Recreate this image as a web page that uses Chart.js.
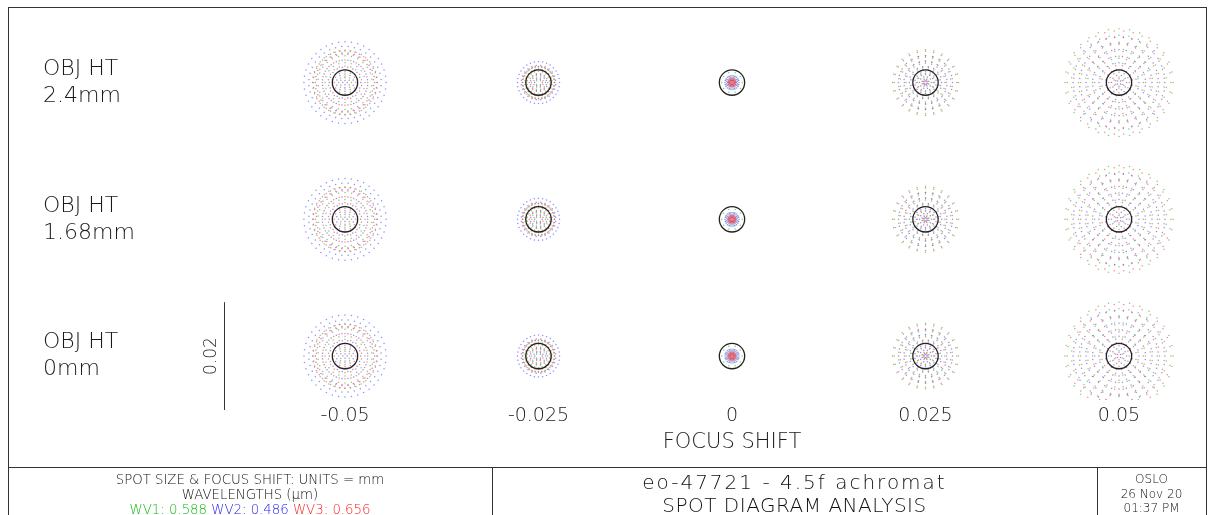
<!DOCTYPE html>
<html><head><meta charset="utf-8">
<script src="https://cdn.jsdelivr.net/npm/chart.js"></script>
<style>
html,body{margin:0;padding:0;background:#fff;}
#wrap{position:relative;width:1214px;height:515px;overflow:hidden;font-family:'DejaVu Sans',sans-serif;font-weight:200;color:#111;}
canvas{position:absolute;left:0;top:0;}
.ln{position:absolute;background:#333;}
.t{position:absolute;text-align:center;white-space:nowrap;}
</style></head>
<body><div id="wrap">
<canvas id="c" width="1214" height="467"></canvas>
<div class="ln" style="left:8px;top:7px;width:1199px;height:1px"></div>
<div class="ln" style="left:8px;top:7px;width:1px;height:508px"></div>
<div class="ln" style="left:1206px;top:7px;width:1px;height:508px"></div>
<div class="ln" style="left:8px;top:467px;width:1199px;height:1px"></div>
<div class="ln" style="left:492px;top:467px;width:1px;height:48px"></div>
<div class="ln" style="left:1097px;top:467px;width:1px;height:48px"></div>
<div class="t" style="left:8px;width:484px;top:472px;font-size:13.3px;line-height:15px">SPOT SIZE &amp; FOCUS SHIFT: UNITS = mm<br>WAVELENGTHS (μm)<br><span style="color:#11bb11">WV1: 0.588</span> <span style="color:#2222ff">WV2: 0.486</span> <span style="color:#ff2222">WV3: 0.656</span></div>
<div class="t" style="left:492px;width:605px;top:471px;font-size:20px;line-height:23px"><span style="letter-spacing:2px">eo-47721 - 4.5f achromat</span><br><span style="letter-spacing:0.5px">SPOT DIAGRAM ANALYSIS</span></div>
<div class="t" style="left:1097px;width:109px;top:472px;font-size:12px;line-height:14.5px">OSLO<br>26 Nov 20<br>01:37 PM</div>
</div>
<script>
// ---- data ----
const FOCUS_SHIFT_LABELS = ['-0.05', '-0.025', '0', '0.025', '0.05'];
const OBJ_HT_LABELS = ['2.4mm', '1.68mm', '0mm'];
const AIRY_RADIUS_MM = 0.00235;
const SCALE_BAR_MM = 0.02;

// spot rings per focus column: [radius (mm), number of ray dots]
const RINGS_WV1 = [ // green 0.588
  [[0.0060,36],[0.0050,26],[0.0037,20],[0.0024,14],[0.0012,8]],
  [[0.0029,28],[0.0021,18],[0.0013,10],[0.0005,4]],
  [[0.0019,10],[0.0012,8],[0.0005,6]],
  [[0.0061,24],[0.0050,22],[0.0039,20],[0.0028,16],[0.0017,12],[0.0007,8]],
  [[0.0100,32],[0.0088,30],[0.0075,28],[0.0062,24],[0.0049,20],[0.0036,16],[0.0023,12],[0.0010,6]]
];
const RINGS_WV2 = [ // blue 0.486
  [[0.0076,40],[0.0067,36],[0.0055,30],[0.0042,24],[0.0029,18],[0.0016,10],[0.0004,4]],
  [[0.0039,32],[0.0032,24],[0.0024,18],[0.0015,12],[0.0007,6]],
  [[0.0013,22],[0.0010,16],[0.0007,12],[0.0004,8]],
  [[0.0050,24],[0.0040,22],[0.0030,18],[0.0020,14],[0.0011,10],[0.0003,6]],
  [[0.0085,34],[0.0073,30],[0.0061,28],[0.0049,24],[0.0037,20],[0.0025,16],[0.0014,10],[0.0004,4]]
];
const RINGS_WV3 = [ // red 0.656
  [[0.0059,40],[0.0053,32],[0.0042,24],[0.0031,18],[0.0020,12],[0.0009,6]],
  [[0.0030,32],[0.0025,22],[0.0017,14],[0.0009,8]],
  [[0.0008,16],[0.0006,12],[0.0004,10],[0.0002,6],[0.0000,1]],
  [[0.0058,24],[0.0047,22],[0.0036,20],[0.0025,16],[0.0015,12],[0.0005,8]],
  [[0.0096,34],[0.0084,32],[0.0071,28],[0.0058,24],[0.0045,20],[0.0032,16],[0.0019,12],[0.0007,6]]
];

// ---- layout (spot-plane mm, shared by both axes) ----
const PX_PER_MM = 5400;
const COL_PITCH = 193.5 / PX_PER_MM;
const ROW_PITCH = 137 / PX_PER_MM;
const X_MIN = -(732 - 258) / PX_PER_MM, X_MAX = (1206 - 732) / PX_PER_MM;
const Y_MIN = -(400 - 219) / PX_PER_MM, Y_MAX = 219 / PX_PER_MM;
const SCALE_BAR_X = (224 - 732) / PX_PER_MM;
const colX = j => (j - 2) * COL_PITCH;
const rowY = i => (1 - i) * ROW_PITCH;
const FONT = 'DejaVu Sans';
const TEXT = '#1a1a1a';

function spotPoints(rings) {
  const pts = [];
  OBJ_HT_LABELS.forEach((_, row) => {
    FOCUS_SHIFT_LABELS.forEach((_, col) => {
      const cx = colX(col), cy = rowY(row);
      rings[col].forEach(([r, n], ri) => {
        for (let k = 0; k < n; k++) {
          const a = 2 * Math.PI * (k + (ri % 2) * 0.5) / n;
          pts.push({x: cx + r * Math.cos(a), y: cy + r * Math.sin(a)});
        }
      });
    });
  });
  return pts;
}

const spotDecor = {
  id: 'spotDecor',
  afterDatasetsDraw(chart) {
    const {ctx, scales: {x, y}} = chart;
    const rpx = Math.abs(y.getPixelForValue(AIRY_RADIUS_MM) - y.getPixelForValue(0));
    ctx.save();
    ctx.strokeStyle = '#222';
    ctx.lineWidth = 1.3;
    OBJ_HT_LABELS.forEach((_, r) => FOCUS_SHIFT_LABELS.forEach((_, c) => {
      ctx.beginPath();
      ctx.arc(x.getPixelForValue(colX(c)), y.getPixelForValue(rowY(r)), rpx, 0, 2 * Math.PI);
      ctx.stroke();
    }));
    const bx = Math.round(x.getPixelForValue(SCALE_BAR_X)) + 0.5;
    const yc = rowY(OBJ_HT_LABELS.length - 1);
    ctx.lineWidth = 1;
    ctx.strokeStyle = '#333';
    ctx.beginPath();
    ctx.moveTo(bx, y.getPixelForValue(yc + SCALE_BAR_MM / 2));
    ctx.lineTo(bx, y.getPixelForValue(yc - SCALE_BAR_MM / 2));
    ctx.stroke();
    ctx.translate(bx - 13, y.getPixelForValue(yc));
    ctx.rotate(-Math.PI / 2);
    ctx.textAlign = 'center';
    ctx.textBaseline = 'middle';
    ctx.fillStyle = TEXT;
    ctx.font = '200 17px "' + FONT + '"';
    ctx.fillText(SCALE_BAR_MM.toString(), 0, 0);
    ctx.restore();
  }
};

new Chart(document.getElementById('c'), {
  type: 'scatter',
  data: {
    datasets: [
      {label: 'WV3', data: spotPoints(RINGS_WV3), backgroundColor: 'rgba(255,30,30,0.55)'},
      {label: 'WV1', data: spotPoints(RINGS_WV1), backgroundColor: 'rgba(30,180,30,0.6)'},
      {label: 'WV2', data: spotPoints(RINGS_WV2), backgroundColor: 'rgba(30,30,255,0.5)'}
    ]
  },
  options: {
    responsive: false,
    animation: false,
    events: [],
    layout: {padding: {left: 43, right: 8, top: 0, bottom: 0}},
    elements: {point: {radius: 0.75, borderWidth: 0, hoverRadius: 0}},
    plugins: {legend: {display: false}, tooltip: {enabled: false}},
    scales: {
      x: {
        type: 'linear', min: X_MIN, max: X_MAX,
        grid: {display: false, drawTicks: false}, border: {display: false},
        afterBuildTicks: s => { s.ticks = FOCUS_SHIFT_LABELS.map((_, j) => ({value: colX(j)})); },
        ticks: {callback: (v, i) => FOCUS_SHIFT_LABELS[i], autoSkip: false, maxRotation: 0,
                font: {family: FONT, size: 19, weight: 200}, color: TEXT, padding: 5},
        title: {display: true, text: 'FOCUS SHIFT', color: TEXT,
                font: {family: FONT, size: 21, weight: 200}, padding: {top: 0, bottom: 12}},
        afterFit: s => { s.height = 67; s.paddingLeft = 0; s.paddingRight = 0; }
      },
      y: {
        type: 'linear', min: Y_MIN, max: Y_MAX,
        grid: {display: false, drawTicks: false}, border: {display: false},
        afterBuildTicks: s => { s.ticks = OBJ_HT_LABELS.map((_, i) => ({value: rowY(i)})); },
        ticks: {callback: (v, i) => ['OBJ HT', OBJ_HT_LABELS[i]], autoSkip: false, crossAlign: 'far',
                font: {family: FONT, size: 22, weight: 200, lineHeight: 1.23}, color: TEXT},
        afterFit: s => { s.width = 215; s.paddingTop = 0; s.paddingBottom = 0; }
      }
    }
  },
  plugins: [spotDecor]
});
</script>
</body></html>
